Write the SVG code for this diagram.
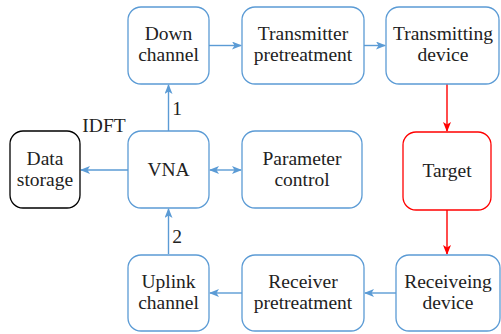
<svg xmlns="http://www.w3.org/2000/svg" width="501" height="334" viewBox="0 0 501 334">
<defs>
<style>
.n{fill:#fff;stroke:#5b9bd5;stroke-width:1.3}
.r{fill:#fff;stroke:#ff0000;stroke-width:1.3}
.k{fill:#fff;stroke:#000;stroke-width:1.3}
.t{font-family:'Liberation Serif','Times New Roman',serif;font-size:19.5px;fill:#222;text-anchor:middle}
.e{fill:none;stroke:#5b9bd5;stroke-width:1.4}
.er{fill:none;stroke:#ff0000;stroke-width:1.4}
</style>
<marker id="ab" viewBox="0 0 10 8" refX="9" refY="4" markerWidth="10" markerHeight="8" markerUnits="userSpaceOnUse" orient="auto-start-reverse">
<path d="M0,0 L10,4 L0,8 L2.5,4 z" fill="#5b9bd5"/>
</marker>
<marker id="ar" viewBox="0 0 10 8" refX="9" refY="4" markerWidth="10" markerHeight="8" markerUnits="userSpaceOnUse" orient="auto">
<path d="M0,0 L10,4 L0,8 L2.5,4 z" fill="#ff0000"/>
</marker>
</defs>
<rect width="501" height="334" fill="#fff"/>
<g id="connectors">
<path class="e" d="M209,45.5 H241" marker-end="url(#ab)"/>
<path class="e" d="M364,45.5 H385" marker-end="url(#ab)"/>
<path class="er" d="M447,84 V131" marker-end="url(#ar)"/>
<path class="er" d="M447,210 V254" marker-end="url(#ar)"/>
<path class="e" d="M396,293 H365" marker-end="url(#ab)"/>
<path class="e" d="M242,293 H210" marker-end="url(#ab)"/>
<path class="e" d="M168.5,254 V209" marker-end="url(#ab)"/>
<path class="e" d="M168.5,131 V85" marker-end="url(#ab)"/>
<path class="e" d="M128,170 H81" marker-end="url(#ab)"/>
<path class="e" d="M210,170 H241" marker-start="url(#ab)" marker-end="url(#ab)"/>
<text class="t" x="177" y="115">1</text>
<text class="t" x="177" y="243">2</text>
<text class="t" x="104" y="132">IDFT</text>
</g>
<g id="down"><rect class="n" x="128" y="7" width="81" height="77" rx="13"/><text class="t" x="168.5" y="40">Down</text><text class="t" x="168.5" y="61">channel</text></g>
<g id="txpre"><rect class="n" x="242" y="7" width="122" height="77" rx="13"/><text class="t" x="303" y="40">Transmitter</text><text class="t" x="303" y="61">pretreatment</text></g>
<g id="txdev"><rect class="n" x="386" y="7" width="113" height="77" rx="13"/><text class="t" x="443" y="40">Transmitting</text><text class="t" x="443" y="61">device</text></g>
<g id="storage"><rect class="k" x="10" y="131" width="70" height="77" rx="13"/><text class="t" x="45" y="164.5">Data</text><text class="t" x="45" y="186">storage</text></g>
<g id="vna"><rect class="n" x="128" y="131" width="81" height="77" rx="13"/><text class="t" x="168.5" y="175.5">VNA</text></g>
<g id="param"><rect class="n" x="242" y="131" width="120" height="77" rx="13"/><text class="t" x="302" y="164.5">Parameter</text><text class="t" x="302" y="186">control</text></g>
<g id="target"><rect class="r" x="403" y="132" width="88" height="78" rx="13"/><text class="t" x="447" y="176.5">Target</text></g>
<g id="uplink"><rect class="n" x="128" y="255" width="81" height="76" rx="13"/><text class="t" x="168.5" y="288">Uplink</text><text class="t" x="168.5" y="309">channel</text></g>
<g id="rxpre"><rect class="n" x="242" y="255" width="122" height="76" rx="13"/><text class="t" x="303" y="288">Receiver</text><text class="t" x="303" y="309">pretreatment</text></g>
<g id="rxdev"><rect class="n" x="396" y="255" width="104" height="76" rx="13"/><text class="t" x="448" y="288">Receiveing</text><text class="t" x="448" y="309">device</text></g>
</svg>
